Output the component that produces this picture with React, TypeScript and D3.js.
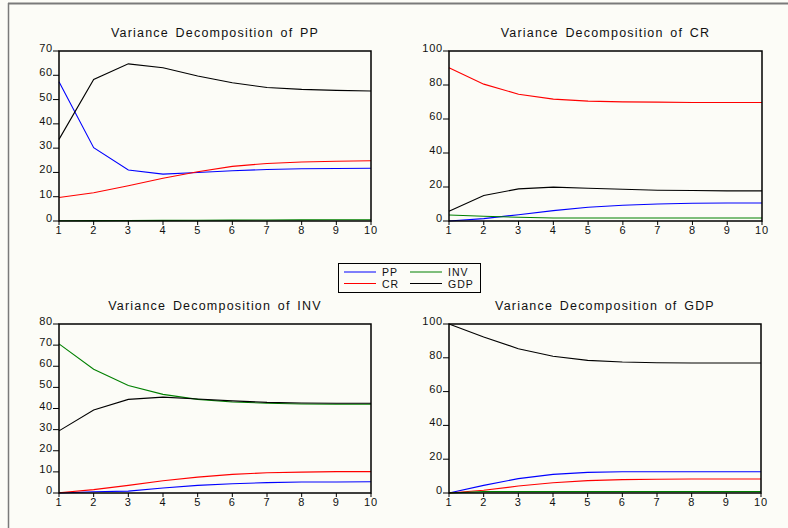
import React, { useEffect } from "react";
import * as d3 from "d3";

// forecast horizon
const periods = [1, 2, 3, 4, 5, 6, 7, 8, 9, 10];

// Variance Decomposition of PP
const ppByPP = [57.3, 30.2, 21.0, 19.3, 20.0, 20.7, 21.2, 21.5, 21.6, 21.7];
const ppByCR = [9.7, 11.6, 14.5, 17.6, 20.3, 22.5, 23.7, 24.3, 24.6, 24.8];
const ppByINV = [0.1, 0.15, 0.2, 0.25, 0.3, 0.35, 0.4, 0.45, 0.5, 0.5];
const ppByGDP = [33.6, 58.3, 64.7, 63.1, 59.7, 56.9, 55.0, 54.2, 53.8, 53.5];

// Variance Decomposition of CR
const crByPP = [0.0, 1.4, 3.7, 6.1, 8.1, 9.3, 10.0, 10.4, 10.6, 10.6];
const crByCR = [90.2, 80.5, 74.6, 71.7, 70.5, 70.1, 69.9, 69.7, 69.7, 69.7];
const crByINV = [3.5, 2.8, 2.2, 1.8, 1.8, 1.8, 1.8, 1.8, 1.8, 1.8];
const crByGDP = [5.7, 15.0, 18.9, 19.9, 19.3, 18.7, 18.1, 17.9, 17.7, 17.7];

// Variance Decomposition of INV
const invByPP = [0.0, 0.6, 0.9, 2.4, 3.6, 4.4, 4.9, 5.2, 5.2, 5.3];
const invByCR = [0.1, 1.6, 3.6, 5.8, 7.5, 8.8, 9.6, 9.9, 10.1, 10.1];
const invByINV = [70.6, 58.6, 50.9, 46.7, 44.3, 43.1, 42.5, 42.1, 42.0, 42.0];
const invByGDP = [29.4, 39.3, 44.3, 45.4, 44.5, 43.6, 42.9, 42.6, 42.5, 42.5];

// Variance Decomposition of GDP
const gdpByPP = [0.0, 4.5, 8.5, 11.0, 12.2, 12.6, 12.6, 12.6, 12.6, 12.6];
const gdpByCR = [0.0, 1.6, 4.1, 6.1, 7.3, 7.9, 8.1, 8.3, 8.3, 8.3];
const gdpByINV = [0.0, 0.8, 0.8, 0.8, 0.8, 0.8, 0.8, 0.8, 0.8, 0.8];
const gdpByGDP = [100.0, 92.3, 85.4, 80.9, 78.5, 77.5, 77.1, 76.9, 76.9, 76.9];

const yTicks80 = [0, 10, 20, 30, 40, 50, 60, 70, 80];
const yTicks70 = [0, 10, 20, 30, 40, 50, 60, 70];
const yTicks100 = [0, 20, 40, 60, 80, 100];

const seriesNames = ["PP", "CR", "INV", "GDP"];
const colors: Record<string, string> = {
  PP: "#0000ff",
  CR: "#ff0000",
  INV: "#008000",
  GDP: "#000000",
};

const FONT = "'Liberation Sans', Arial, sans-serif";
const BG = "#fcfcf7";

interface PanelDef {
  title: string;
  ticks: number[];
  series: number[][];
  left: number;
  top: number;
  right: number;
  bottom: number;
}

const panels: PanelDef[] = [
  { title: "Variance Decomposition of PP", ticks: yTicks70, series: [ppByPP, ppByCR, ppByINV, ppByGDP], left: 59, top: 51, right: 371, bottom: 221 },
  { title: "Variance Decomposition of CR", ticks: yTicks100, series: [crByPP, crByCR, crByINV, crByGDP], left: 449, top: 51, right: 762, bottom: 221 },
  { title: "Variance Decomposition of INV", ticks: yTicks80, series: [invByPP, invByCR, invByINV, invByGDP], left: 59, top: 324, right: 371, bottom: 493 },
  { title: "Variance Decomposition of GDP", ticks: yTicks100, series: [gdpByPP, gdpByCR, gdpByINV, gdpByGDP], left: 449, top: 324, right: 761, bottom: 493 },
];

const Panel: React.FC<{ p: PanelDef }> = ({ p }) => {
  const x = d3.scaleLinear().domain([1, 10]).range([p.left, p.right]);
  const y = d3
    .scaleLinear()
    .domain([0, d3.max(p.ticks) as number])
    .range([p.bottom, p.top]);

  const line = d3
    .line<number>()
    .x((_, i) => x(periods[i]))
    .y(d => y(d));

  return (
    <g>
      <text
        x={(p.left + p.right) / 2}
        y={p.top - 14}
        textAnchor="middle"
        fontSize={12.5}
        letterSpacing={1.2}
        wordSpacing={2}
        fill="#111"
      >
        {p.title}
      </text>

      {/* lines */}
      {p.series.map((s, i) => (
        <path
          key={seriesNames[i]}
          d={line(s) as string}
          fill="none"
          stroke={colors[seriesNames[i]]}
          strokeWidth={1.1}
        />
      ))}

      <rect
        x={p.left}
        y={p.top}
        width={p.right - p.left}
        height={p.bottom - p.top}
        fill="none"
        stroke="#000"
        strokeWidth={1.5}
      />

      {/* y axis */}
      {p.ticks.map(t => (
        <g key={"y" + t}>
          <line x1={p.left - 6} x2={p.left} y1={y(t)} y2={y(t)} stroke="#000" strokeWidth={1} />
          <text
            x={p.left - 6}
            y={y(t) + 1}
            textAnchor="end"
            fontSize={11}
            letterSpacing={0.8}
            fill="#111"
          >
            {t}
          </text>
        </g>
      ))}

      {/* x axis */}
      {periods.map(t => (
        <g key={"x" + t}>
          <line x1={x(t)} x2={x(t)} y1={p.bottom} y2={p.bottom + 4} stroke="#000" strokeWidth={1} />
          <text
            x={x(t)}
            y={p.bottom + 13}
            textAnchor="middle"
            fontSize={11}
            letterSpacing={0.8}
            fill="#111"
          >
            {t}
          </text>
        </g>
      ))}
    </g>
  );
};

const Legend: React.FC = () => {
  const col = d3.scaleOrdinal<number, number>().domain([0, 1]).range([344, 410]);
  const row = d3.scaleOrdinal<number, number>().domain([0, 1]).range([272, 283.5]);
  // column-major: PP, CR | INV, GDP
  return (
    <g>
      <rect x={338.5} y={263.5} width={142} height={29} fill={BG} stroke="#000" strokeWidth={1} />
      {seriesNames.map((name, i) => {
        const c = Math.floor(i / 2);
        const r = i % 2;
        const lx = col(c);
        const ly = row(r);
        return (
          <g key={name}>
            <line x1={lx} x2={lx + 32} y1={ly} y2={ly} stroke={colors[name]} strokeWidth={1} />
            <text x={lx + 38} y={ly + 4} fontSize={10.5} letterSpacing={1} fill="#111">
              {name}
            </text>
          </g>
        );
      })}
    </g>
  );
};

export default function App() {
  useEffect(() => {
    document.body.style.margin = "0";
    document.body.style.background = BG;
  }, []);

  return (
    <svg
      width={788}
      height={528}
      style={{ position: "absolute", left: 0, top: 0, display: "block" }}
      fontFamily={FONT}
    >
      <rect x={0} y={0} width={788} height={528} fill={BG} />
      {/* outer frame */}
      <line x1={8} x2={788} y1={3.5} y2={3.5} stroke="#7a7a7a" strokeWidth={2} />
      <line x1={8.5} x2={8.5} y1={3} y2={528} stroke="#7a7a7a" strokeWidth={1.5} />

      {panels.map(p => (
        <Panel key={p.title} p={p} />
      ))}
      <Legend />
    </svg>
  );
}
